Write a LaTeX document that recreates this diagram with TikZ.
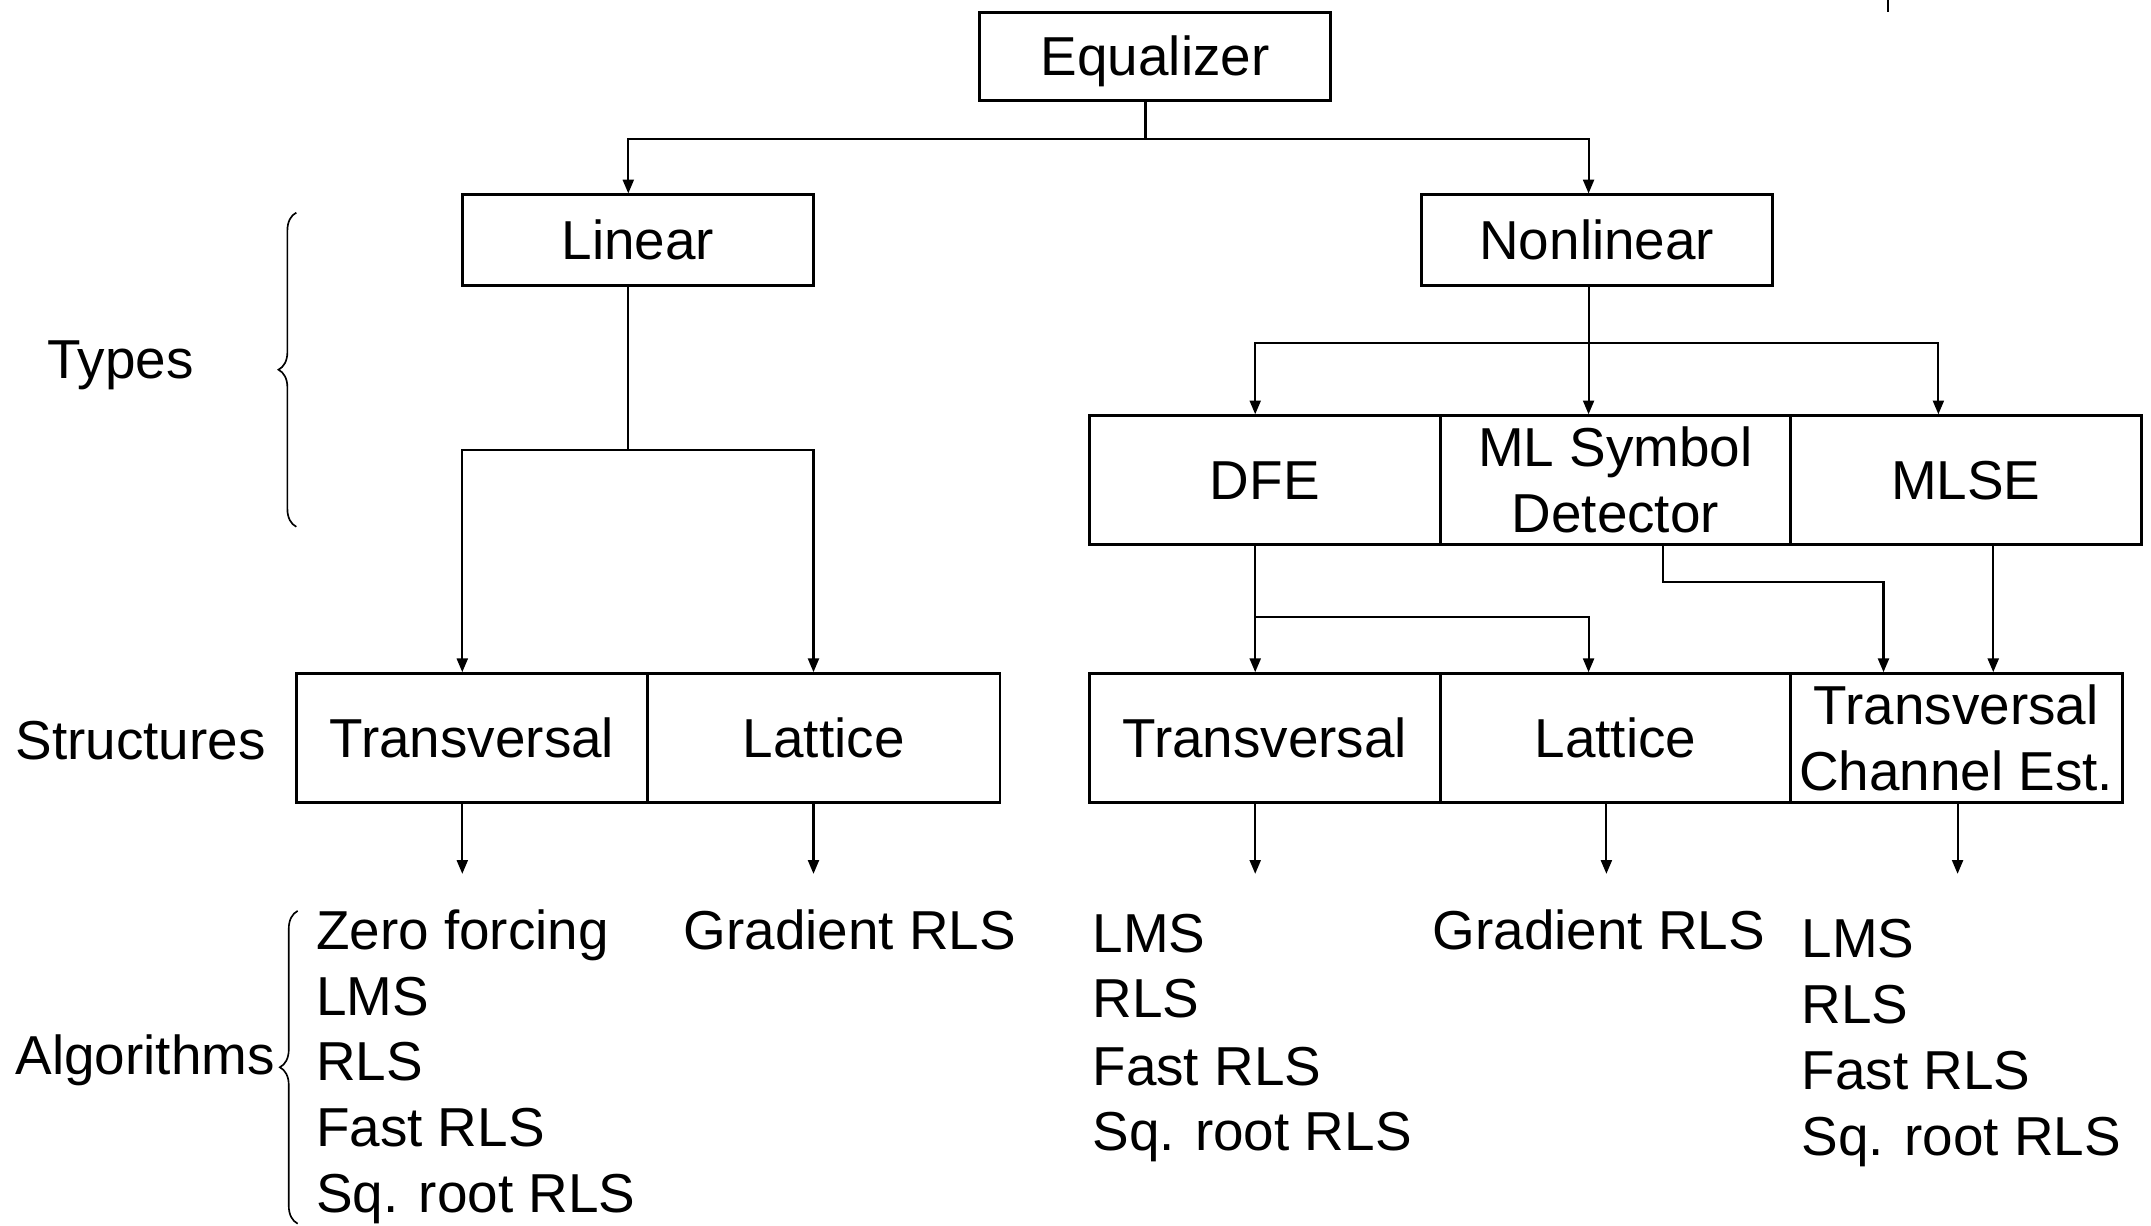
\documentclass[tikz,border=0pt]{standalone}
\usepackage{fontspec}
\setmainfont{Liberation Sans}
\usetikzlibrary{arrows.meta,calc,decorations.pathreplacing}
\begin{document}
\begin{tikzpicture}[x=0.5pt,y=-0.5pt,
  font=\fontsize{20}{24}\selectfont,
  cell/.style={draw,line width=1pt,inner sep=0pt,text height=14.3pt,text depth=0pt},
  cellml/.style={draw,line width=1pt,inner sep=0pt,align=center},
  lbl/.style={inner sep=0pt,anchor=base west},
  conn/.style={line width=0.75pt},
  arr/.style={conn,-{Triangle[length=5pt,width=4pt]}},
  brc/.style={decorate,decoration={brace,amplitude=6.5pt},line width=0.6pt}]
\useasboundingbox (0,0) rectangle (1568,893);

% top level
\node[cell,minimum width=128pt,minimum height=32pt] (eq) at (842,41) {Equalizer};
\node[cell,minimum width=128pt,minimum height=33pt] (lin) at (465,175) {Linear};
\node[cell,minimum width=128pt,minimum height=33pt] (nonlin) at (1164,175) {Nonlinear};

% nonlinear types
\node[cell,minimum width=128pt,minimum height=47pt] (dfe) at (922,350) {DFE};
\node[cellml,minimum width=127.5pt,minimum height=47pt] (mlsd) at (1177.5,350) {ML Symbol\\Detector};
\node[cell,minimum width=128pt,minimum height=47pt] (mlse) at (1433,350) {MLSE};

% structures
\node[cell,minimum width=128pt,minimum height=47pt] (ltr) at (344,538) {Transversal};
\node[cell,minimum width=128.5pt,minimum height=47pt] (llat) at (600.5,538) {Lattice};
\node[cell,minimum width=128pt,minimum height=47pt] (rtr) at (922,538) {Transversal};
\node[cell,minimum width=127.5pt,minimum height=47pt] (rlat) at (1177.5,538) {Lattice};
\node[cellml,minimum width=121pt,minimum height=47pt] (rtce) at (1426,538) {Transversal\\Channel Est.};

% row labels
\node[lbl] (types) at (34,276) {Types};
\node[lbl] (structs) at (11,554) {Structures};
\node[lbl] (algos) at (11,783) {Algorithms};

% braces
\draw[brc] (216,384) -- (216,155);
\draw[brc] (217,892) -- (217,664);

% algorithms lists
\node[lbl] (a11) at (230,692) {Zero forcing};
\node[lbl] (a12) at (230,740) {LMS};
\node[lbl] (a13) at (230,788) {RLS};
\node[lbl] (a14) at (230,836) {Fast RLS};
\node[lbl] (a15) at (230,884) {Sq. root RLS};
\node[lbl] (a21) at (498,692) {Gradient RLS};
\node[lbl] (a31) at (796,694) {LMS};
\node[lbl] (a32) at (796,742) {RLS};
\node[lbl] (a33) at (796,791) {Fast RLS};
\node[lbl] (a34) at (796,839) {Sq. root RLS};
\node[lbl] (a41) at (1044,692) {Gradient RLS};
\node[lbl] (a51) at (1313,698) {LMS};
\node[lbl] (a52) at (1313,746) {RLS};
\node[lbl] (a53) at (1313,794) {Fast RLS};
\node[lbl] (a54) at (1313,842) {Sq. root RLS};

% junction coordinates
\coordinate (eqj) at (835,101);
\coordinate (linj) at (458,328);
\coordinate (nlj) at (1158,250);
\coordinate (dfej) at (915,450);
\coordinate (b1) at (337,637);
\coordinate (b2) at (593,637);
\coordinate (b3) at (915,637);
\coordinate (b4) at (1171,637);
\coordinate (b5) at (1427,637);

% connectors
\draw[conn] (eq.south -| eqj) -- (eqj);
\draw[arr] (eqj) -| ($(lin.north)+(-7,0)$);
\draw[arr] (eqj) -| ($(nonlin.north)+(-6,0)$);

\draw[conn] (lin.south -| linj) -- (linj);
\draw[arr] (linj) -| ($(ltr.north)+(-7,0)$);
\draw[arr] (linj) -| ($(llat.north)+(-7.5,0)$);

\draw[conn] (nonlin.south -| nlj) -- (nlj);
\draw[arr] (nlj) -| ($(dfe.north)+(-7,0)$);
\draw[arr] (nlj) -- (mlsd.north -| nlj);
\draw[arr] (nlj) -| ($(mlse.north)+(-20,0)$);

\draw[arr] ($(dfe.south)+(-7,0)$) -- ($(rtr.north)+(-7,0)$);
\draw[arr] (dfej) -| ($(rlat.north)+(-19.5,0)$);
\draw[arr] ($(mlsd.south)+(34.5,0)$) -- ++(0,26) -| ($(rtce.north)+(-53,0)$);
\draw[arr] ($(mlse.south)+(20,0)$) -- ($(rtce.north)+(27,0)$);

\draw[arr] ($(ltr.south)+(-7,0)$) -- (b1);
\draw[arr] ($(llat.south)+(-7.5,0)$) -- (b2);
\draw[arr] ($(rtr.south)+(-7,0)$) -- (b3);
\draw[arr] ($(rlat.south)+(-6.5,0)$) -- (b4);
\draw[arr] ($(rtce.south)+(1,0)$) -- (b5);

% small mark at top edge
\draw[conn] (1376,0) -- (1376,9);
\end{tikzpicture}
\end{document}
